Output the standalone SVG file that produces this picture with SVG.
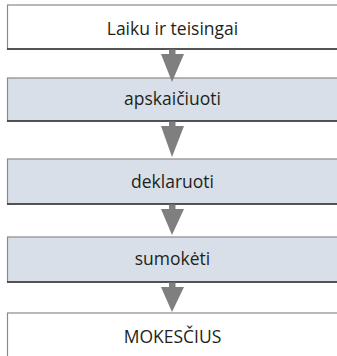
<svg xmlns="http://www.w3.org/2000/svg" width="337" height="356" viewBox="0 0 337 356">
  <defs>
    <style>
      .box { stroke: #8a8a8a; stroke-width: 1.2; }
      .plain { fill: #ffffff; }
      .shaded { fill: #d8dfe8; }
      .edge { stroke: #333333; stroke-width: 1.4; }
      .label { font-family: "Open Sans", "Liberation Sans", sans-serif; font-size: 17.5px; fill: #231f20; text-anchor: middle; }
      .arrow { fill: #7f7f7f; }
    </style>
  </defs>

  <g id="node-timely">
    <rect class="box plain" x="7.5" y="5" width="335" height="44"/>
    <line class="edge" x1="7" y1="49" x2="337" y2="49"/>
    <text class="label" x="172.5" y="35">Laiku ir teisingai</text>
  </g>

  <g id="node-calculate">
    <rect class="box shaded" x="7.5" y="78" width="335" height="43"/>
    <line class="edge" x1="7" y1="121" x2="337" y2="121"/>
    <text class="label" x="172.5" y="105">apskaičiuoti</text>
  </g>

  <g id="node-declare">
    <rect class="box shaded" x="7.5" y="159" width="335" height="45"/>
    <line class="edge" x1="7" y1="204" x2="337" y2="204"/>
    <text class="label" x="172.5" y="188">deklaruoti</text>
  </g>

  <g id="node-pay">
    <rect class="box shaded" x="7.5" y="237" width="335" height="45"/>
    <line class="edge" x1="7" y1="282" x2="337" y2="282"/>
    <text class="label" x="172.5" y="265">sumokėti</text>
  </g>

  <g id="node-taxes">
    <rect class="box plain" x="7.5" y="313" width="335" height="60"/>
    <text class="label" x="172.5" y="343">MOKESČIUS</text>
  </g>

  <g id="connectors">
    <path class="arrow" d="M169 49.5 H175.5 V54 H184 L172 82 L161 54 H169 Z"/>
    <path class="arrow" d="M169 121.5 H175.5 V126 H184 L172 157 L161 126 H169 Z"/>
    <path class="arrow" d="M169 204.5 H175.5 V209 H184 L172 235 L161 209 H169 Z"/>
    <path class="arrow" d="M169 282.5 H175.5 V287 H184 L172 312 L161 287 H169 Z"/>
  </g>
</svg>
